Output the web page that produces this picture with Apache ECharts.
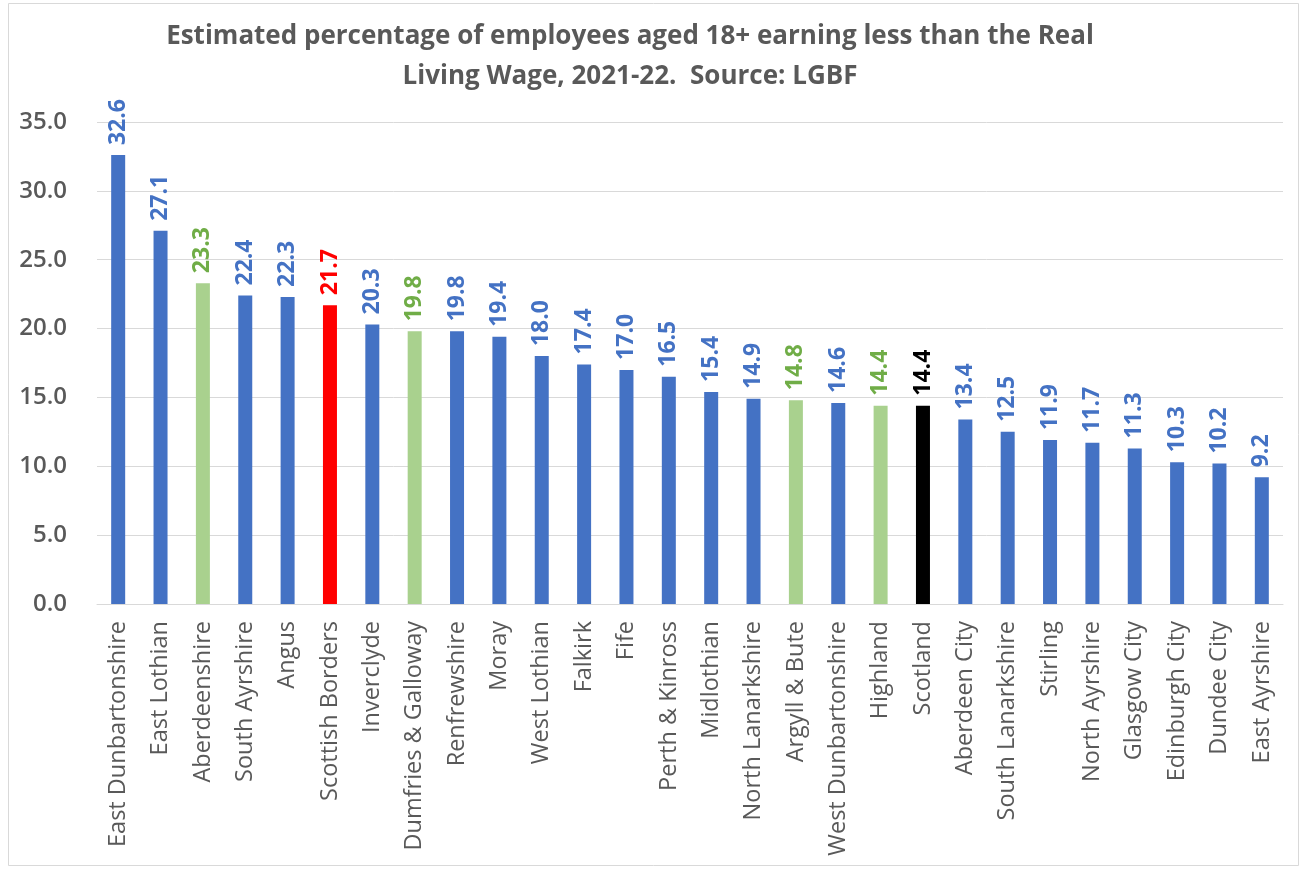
<!DOCTYPE html>
<html>
<head>
<meta charset="utf-8">
<script src="https://cdn.jsdelivr.net/npm/echarts@6/dist/echarts.min.js"></script>
<style>html,body{margin:0;padding:0;background:#fff;}#c{width:1302px;height:869px;}</style>
</head>
<body>
<div id="c"></div>
<script>
const categories = ['East Dunbartonshire','East Lothian','Aberdeenshire','South Ayrshire','Angus','Scottish Borders','Inverclyde','Dumfries & Galloway','Renfrewshire','Moray','West Lothian','Falkirk','Fife','Perth & Kinross','Midlothian','North Lanarkshire','Argyll & Bute','West Dunbartonshire','Highland','Scotland','Aberdeen City','South Lanarkshire','Stirling','North Ayrshire','Glasgow City','Edinburgh City','Dundee City','East Ayrshire'];
const values = [32.6,27.1,23.3,22.4,22.3,21.7,20.3,19.8,19.8,19.4,18.0,17.4,17.0,16.5,15.4,14.9,14.8,14.6,14.4,14.4,13.4,12.5,11.9,11.7,11.3,10.3,10.2,9.2];
const greenAreas = ['Aberdeenshire','Dumfries & Galloway','Argyll & Bute','Highland'];
const redArea = 'Scottish Borders';
const nationalArea = 'Scotland';
const yTicks = [0,5,10,15,20,25,30,35];

function styleFor(name){
  if (name === redArea) return {bar:'#FF0000', label:'#FF0000'};
  if (name === nationalArea) return {bar:'#000000', label:'#000000'};
  if (greenAreas.indexOf(name) >= 0) return {bar:'#A9D18E', label:'#70AD47'};
  return {bar:'#4472C4', label:'#4472C4'};
}
const seriesData = values.map((v,i)=>{
  const s = styleFor(categories[i]);
  return {value:v, itemStyle:{color:s.bar}, label:{color:s.label}};
});

const chart = echarts.init(document.getElementById('c'));
chart.setOption({
  animation:false,
  backgroundColor:'#fff',
  graphic:[{type:'rect',shape:{x:8.5,y:3.5,width:1290,height:862},style:{fill:null,stroke:'#D9D9D9',lineWidth:1},z:-1}],
  title:{
    text:'Estimated percentage of employees aged 18+ earning less than the Real\nLiving Wage, 2021-22.  Source: LGBF',
    left:625, textAlign:'center', top:12,
    textStyle:{fontFamily:'Open Sans',fontWeight:'bold',fontSize:26,color:'#595959',lineHeight:40}
  },
  grid:{left:97,right:19,top:122,bottom:265,containLabel:false},
  xAxis:{
    type:'category', data:categories,
    axisLine:{lineStyle:{color:'#D9D9D9',width:1}},
    axisTick:{show:false},
    axisLabel:{interval:0,rotate:90,margin:17,color:'#595959',fontFamily:'Open Sans',fontSize:23.5}
  },
  yAxis:{
    type:'value', min:yTicks[0], max:yTicks[yTicks.length-1], interval:5,
    axisLine:{show:false}, axisTick:{show:false},
    splitLine:{lineStyle:{color:'#D9D9D9',width:1}},
    axisLabel:{margin:30,color:'#595959',fontFamily:'Open Sans',fontSize:24,fontWeight:600,formatter:v=>v.toFixed(1)}
  },
  series:[{
    type:'bar', data:seriesData, barWidth:14,
    label:{show:true,position:'top',rotate:90,align:'left',verticalAlign:'middle',distance:10,
      fontFamily:'Open Sans',fontSize:23,fontWeight:'bold',formatter:p=>p.value.toFixed(1)}
  }]
});
</script>
</body>
</html>
